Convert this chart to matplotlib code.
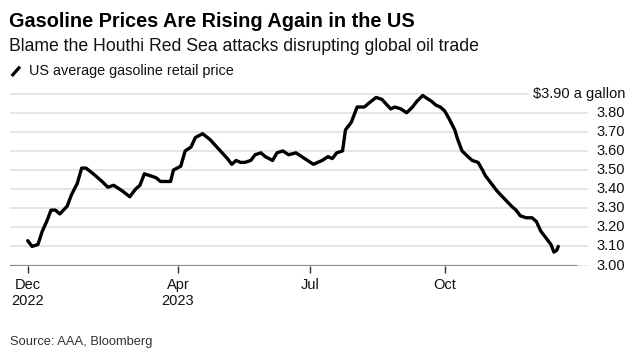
import matplotlib
matplotlib.use("Agg")
import matplotlib.pyplot as plt
import matplotlib.dates as mdates
import matplotlib.transforms as mtransforms
import pandas as pd

plt.rcParams['font.family'] = ['Liberation Sans', 'DejaVu Sans']

# US average gasoline retail price
dates = ["2022-12-19", "2022-12-22", "2022-12-26", "2022-12-29", "2023-01-01",
         "2023-01-04", "2023-01-07", "2023-01-10", "2023-01-15", "2023-01-18",
         "2023-01-22", "2023-01-25", "2023-01-28", "2023-02-02", "2023-02-08",
         "2023-02-12", "2023-02-16", "2023-02-22", "2023-02-27", "2023-03-03",
         "2023-03-06", "2023-03-09", "2023-03-13", "2023-03-17", "2023-03-20",
         "2023-03-25", "2023-03-27", "2023-03-29", "2023-04-03", "2023-04-06",
         "2023-04-10", "2023-04-13", "2023-04-18", "2023-04-23", "2023-04-29",
         "2023-05-05", "2023-05-08", "2023-05-11", "2023-05-14", "2023-05-17",
         "2023-05-21", "2023-05-24", "2023-05-28", "2023-05-31", "2023-06-05",
         "2023-06-08", "2023-06-12", "2023-06-16", "2023-06-21", "2023-06-25",
         "2023-06-29", "2023-07-03", "2023-07-06", "2023-07-09", "2023-07-13",
         "2023-07-16", "2023-07-19", "2023-07-23", "2023-07-25", "2023-07-29",
         "2023-08-02", "2023-08-07", "2023-08-10", "2023-08-15", "2023-08-19",
         "2023-08-25", "2023-08-28", "2023-09-01", "2023-09-05", "2023-09-09",
         "2023-09-12", "2023-09-16", "2023-09-22", "2023-09-25", "2023-09-28",
         "2023-10-01", "2023-10-04", "2023-10-08", "2023-10-10", "2023-10-13",
         "2023-10-17", "2023-10-20", "2023-10-24", "2023-10-27", "2023-10-29",
         "2023-11-02", "2023-11-06", "2023-11-11", "2023-11-16", "2023-11-19",
         "2023-11-22", "2023-11-26", "2023-11-30", "2023-12-03", "2023-12-06",
         "2023-12-10", "2023-12-13", "2023-12-15", "2023-12-17", "2023-12-18"]
price = [3.13, 3.10, 3.11, 3.18, 3.23,
         3.29, 3.29, 3.27, 3.31, 3.37,
         3.43, 3.51, 3.51, 3.48, 3.44,
         3.41, 3.42, 3.39, 3.36, 3.40,
         3.42, 3.48, 3.47, 3.46, 3.44,
         3.44, 3.44, 3.50, 3.52, 3.60,
         3.62, 3.67, 3.69, 3.66, 3.61,
         3.56, 3.53, 3.55, 3.54, 3.54,
         3.55, 3.58, 3.59, 3.57, 3.55,
         3.59, 3.60, 3.58, 3.59, 3.57,
         3.55, 3.53, 3.54, 3.55, 3.57,
         3.56, 3.59, 3.60, 3.71, 3.75,
         3.83, 3.83, 3.85, 3.88, 3.87,
         3.82, 3.83, 3.82, 3.80, 3.83,
         3.86, 3.89, 3.86, 3.84, 3.83,
         3.81, 3.77, 3.71, 3.66, 3.60,
         3.57, 3.55, 3.54, 3.50, 3.47,
         3.43, 3.39, 3.35, 3.31, 3.29,
         3.26, 3.25, 3.25, 3.23, 3.18,
         3.14, 3.11, 3.07, 3.08, 3.10]

x_ticks = ["2022-12-19", "2023-04-01", "2023-07-01", "2023-10-01"]
x_labels = ["Dec\n2022", "Apr\n2023", "Jul", "Oct"]
y_ticks = [3.00, 3.10, 3.20, 3.30, 3.40, 3.50, 3.60, 3.70, 3.80, 3.90]
y_labels = ["3.00", "3.10", "3.20", "3.30", "3.40", "3.50", "3.60", "3.70", "3.80",
            "$3.90 a gallon"]

W, H = 633, 353
fig = plt.figure(figsize=(W / 100, H / 100), dpi=100)
fig.patch.set_facecolor('white')

# axes: x 10..588 px, y 3.00 at 265.5 px
ax = fig.add_axes([10 / W, (H - 265.5) / H, 578 / W, 177.6 / H])

d = pd.to_datetime(dates)
start = mdates.date2num(d[0])
ax.set_xlim(start - 12.16, start + 384.4)
ax.set_ylim(3.00, 3.93)

for s in ax.spines.values():
    s.set_visible(False)

# grid
for v in y_ticks:
    xmax = (528 - 10) / 578 if v == 3.90 else 1.0
    ax.axhline(v, xmax=xmax, color='#e3e3e3', lw=1.3, zorder=1)
ax.axhline(3.00, xmax=(576 - 10) / 578, color='#8a8a8a', lw=1.6, zorder=1.5)

ax.plot(d, price, color='black', lw=2.4, solid_joinstyle='round',
        solid_capstyle='round', zorder=3, clip_on=False)

ax.set_xticks(pd.to_datetime(x_ticks))
ax.set_xticklabels(x_labels, fontsize=10.5, color='#111', linespacing=1.2)
ax.tick_params(axis='x', length=5, width=1, color='#333', pad=4, direction='out')

# y labels on the right, right-aligned at x = 625 px
ax.set_yticks([])
trans = mtransforms.blended_transform_factory(fig.transFigure, ax.transData)
for v, lab in zip(y_ticks, y_labels):
    ax.text(625 / W, v, lab, transform=trans, ha='right', va='center',
            fontsize=10.5, color='#111')

# titles
fig.text(9 / W, 1 - 26.7 / H, "Gasoline Prices Are Rising Again in the US",
         fontsize=14.35, fontweight='bold', color='black', va='baseline')
fig.text(9 / W, 1 - 51 / H, "Blame the Houthi Red Sea attacks disrupting global oil trade",
         fontsize=12.7, color='#111', va='baseline')
fig.add_artist(plt.Line2D([11.7 / W, 20 / W], [1 - 76 / H, 1 - 66.7 / H],
                          color='black', lw=2.3, solid_capstyle='butt'))
fig.text(29 / W, 1 - 75 / H, "US average gasoline retail price",
         fontsize=10.35, color='#111', va='baseline')
fig.text(9.5 / W, 1 - 345 / H, "Source: AAA, Bloomberg",
         fontsize=9.3, color='#333', va='baseline')

fig.savefig("out.png", dpi=100, facecolor='white')
